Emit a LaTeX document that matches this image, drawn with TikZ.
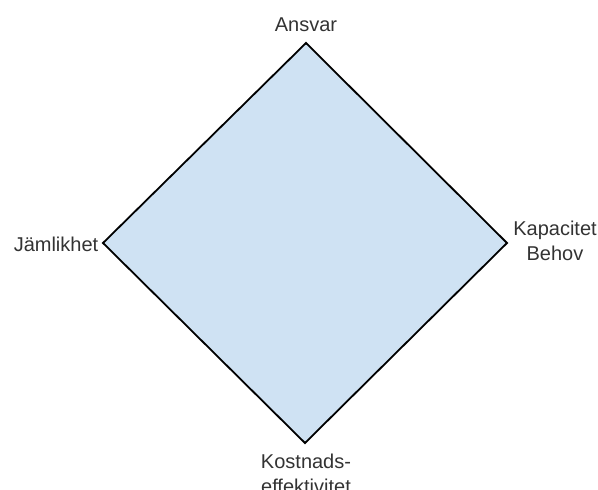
\documentclass[tikz,border=0pt]{standalone}
\usepackage{fontspec}
\setmainfont{Liberation Sans}
\definecolor{diamondfill}{HTML}{CFE2F3}
\definecolor{labelgray}{HTML}{333333}
\tikzset{
    corner label/.style={text=labelgray, font=\fontsize{10}{12.5}\selectfont, align=center, inner sep=0pt}
}
\begin{document}
\begin{tikzpicture}[x=0.5pt, y=-0.5pt]
    % Frame
    \useasboundingbox (0,0) rectangle (598,490);

    % Corners
    \coordinate (top) at (306,43);
    \coordinate (left) at (103,243);
    \coordinate (right) at (507,243);
    \coordinate (bottom) at (305,443);

    % Diamond
    \draw[fill=diamondfill, line width=0.9pt, line join=miter] (top) -- (right) -- (bottom) -- (left) -- cycle;

    % Labels
    \node[corner label] (ansvar) at (306,25) {Ansvar};
    \node[corner label] (jamlikhet) at (56,244) {Jämlikhet};
    \node[corner label] (kapacitet) at (555,241) {Kapacitet\\Behov};
    \node[corner label] (kostnad) at (306,474) {Kostnads-\\effektivitet};
\end{tikzpicture}
\end{document}
